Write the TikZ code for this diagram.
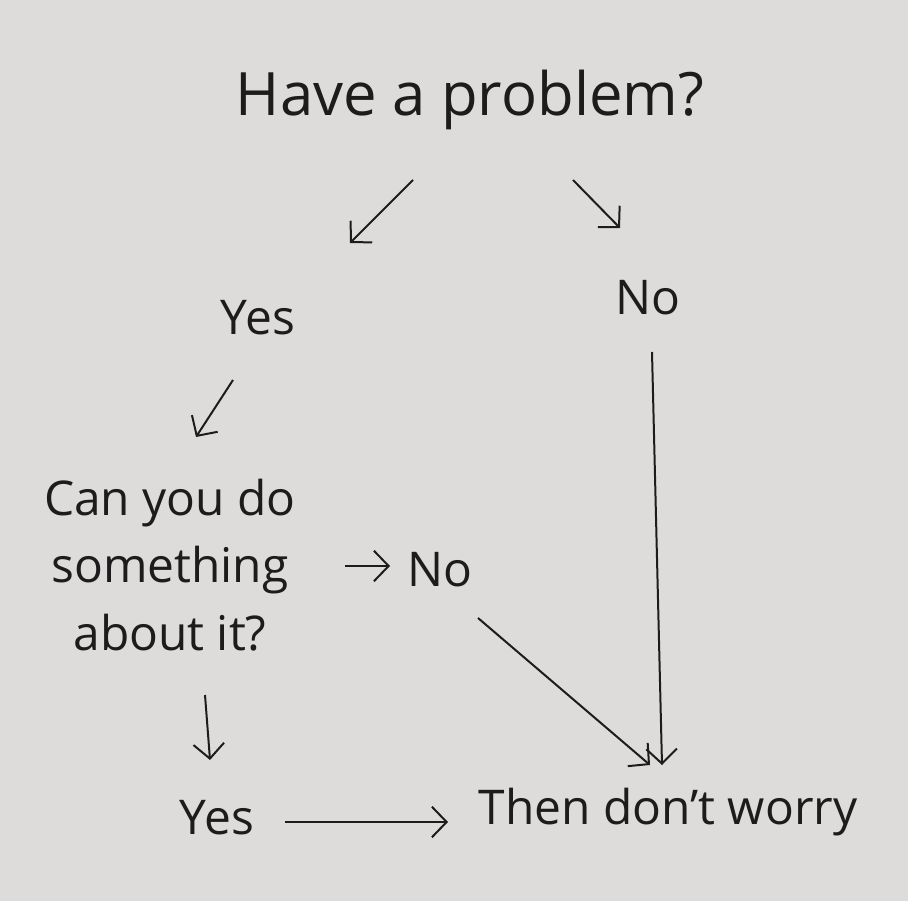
\documentclass[tikz,border=0pt]{standalone}
\usepackage{fontspec}
\setmainfont{Open Sans}
\usetikzlibrary{arrows.meta, positioning}
\definecolor{paper}{RGB}{221,220,218}
\definecolor{ink}{RGB}{28,28,28}

\begin{document}
\begin{tikzpicture}[
    x=0.01762cm, y=-0.01762cm,
    every node/.style={font=\fontsize{24}{34}\selectfont, text=ink, inner sep=2pt},
    titletext/.style={font=\fontsize{30}{36}\selectfont},
    arrow/.style={-{Straight Barb[length=2.6mm, width=5.4mm]}, draw=ink, line width=1pt}
]

\fill[paper] (0,0) rectangle (908,901);

\node[titletext] (problem) at (470,100) {Have a problem?};
\node (yes1) at (258,318) {Yes};
\node (no1) at (648,298) {No};
\node[align=center] (can) at (170,565) {Can you do\\something\\about it?};
\node (no2) at (440,570) {No};
\node (yes2) at (217,818) {Yes};
\node (then) at (668,812) {Then don't worry};

% arrow ends
\coordinate (p2y) at (413,180);
\coordinate (y1in) at (350,243);
\coordinate (p2n) at (573,180);
\coordinate (n1in) at (620,228);
\coordinate (y2c) at (233,380);
\coordinate (cin) at (196,437);
\coordinate (c2n) at (345,566);
\coordinate (n2in) at (390,566);
\coordinate (n2t) at (478,618);
\coordinate (tin) at (650,765);
\coordinate (n1t) at (652,352);
\coordinate (tin2) at (662,765);
\coordinate (c2y) at (205,695);
\coordinate (y2in) at (210,760);
\coordinate (y2t) at (285,822);
\coordinate (tleft) at (448,822);

\draw[arrow] (p2y) -- (y1in);
\draw[arrow] (p2n) -- (n1in);
\draw[arrow] (y2c) -- (cin);
\draw[arrow] (c2n) -- (n2in);
\draw[arrow] (n2t) -- (tin);
\draw[arrow] (n1t) -- (tin2);
\draw[arrow] (c2y) -- (y2in);
\draw[arrow] (y2t) -- (tleft);

\end{tikzpicture}
\end{document}
